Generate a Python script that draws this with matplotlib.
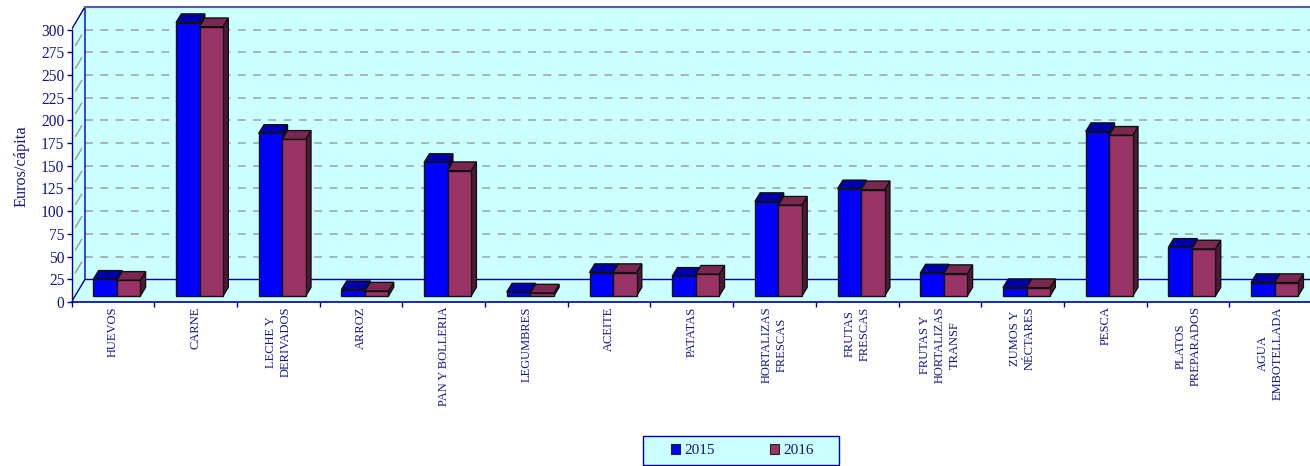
import matplotlib
matplotlib.use('Agg')
import matplotlib.pyplot as plt
from matplotlib.patches import Patch, Rectangle

plt.rcParams['font.family'] = ['Liberation Serif', 'DejaVu Serif']

categories = ['HUEVOS', 'CARNE', 'LECHE Y\nDERIVADOS', 'ARROZ', 'PAN Y BOLLERIA', 'LEGUMBRES', 'ACEITE',
              'PATATAS', 'HORTALIZAS\nFRESCAS', 'FRUTAS\nFRESCAS', 'FRUTAS Y\nHORTALIZAS\nTRANSF',
              'ZUMOS Y\nNÉCTARES', 'PESCA', 'PLATOS\nPREPARADOS', 'AGUA\nEMBOTELLADA']
values_2015 = [18.4, 301, 179, 7, 147, 4.4, 25.8, 21.7, 104, 118, 25.3, 9.2, 181, 53.6, 14.8]
values_2016 = [17.3, 296.5, 172.5, 5.5, 138, 3.3, 25.8, 24, 100, 117, 24.7, 9.2, 177, 51.8, 14.8]
y_ticks = [0, 25, 50, 75, 100, 125, 150, 175, 200, 225, 250, 275, 300]
legend_labels = ['2015', '2016']

W, H = 1310, 466
NAVY = '#0000A0'
CYAN = '#CCFFFF'
GRID = '#96a4a4'

# pixel sizes of one category and one euro
PX_CAT = 82.7
PX_EUR = 0.9083
px = 1 / PX_CAT
py = 1 / PX_EUR

fig = plt.figure(figsize=(W / 100, H / 100), dpi=100)
ax = fig.add_axes([71.5 / W, (H - 302) / H, (W - 71.5) / W, 302 / H])
ax.set_xlim(0, (W - 71.5) * px)
ax.set_ylim(0, 302 * py)
xmax = ax.get_xlim()[1]

# walls
wall_dx = 13.5 * px
wall_dy = 25
ax.fill([wall_dx, xmax, xmax, wall_dx], [wall_dy, wall_dy, 300 + wall_dy, 300 + wall_dy],
        color=CYAN, lw=0, zorder=0)
ax.fill([0, wall_dx, wall_dx, 0], [0, wall_dy, 300 + wall_dy, 300], color=CYAN, lw=0, zorder=0)
ax.fill([0, wall_dx, xmax, xmax], [0, wall_dy, wall_dy, 0], color=CYAN, lw=0, zorder=0)

dash = (0, (5.2, 4.8))
for v in y_ticks[1:-1]:
    ax.plot([wall_dx, xmax], [v + wall_dy, v + wall_dy], color=GRID, lw=1.1, ls=dash, zorder=1)
    ax.plot([wall_dx * 0.3, wall_dx * 0.75], [v + wall_dy * 0.3, v + wall_dy * 0.75], color=GRID, lw=1.1, zorder=1)

ax.plot([0, wall_dx, wall_dx, 0], [0, wall_dy, 300 + wall_dy, 300], color=NAVY, lw=1, zorder=2)
ax.plot([wall_dx, xmax], [wall_dy, wall_dy], color=NAVY, lw=1, zorder=2)
ax.plot([wall_dx, xmax], [300 + wall_dy, 300 + wall_dy], color='#5a5aa8', lw=1.5, zorder=2)

# bars
bar_w = 23.5 * px
start = 21.8 * px
base = 6.6
depth_x = 5.3 * px
depth_y = 8.7 * py


def draw_bars(i, offset, val, face, top, side):
    x0 = i + start + offset
    x1 = x0 + bar_w
    y1 = base + val
    z = 3 + i * 0.01 + offset
    ax.fill([x1, x1 + depth_x, x1 + depth_x, x1], [base, base + depth_y, y1 + depth_y, y1],
            facecolor=side, edgecolor='#111111', lw=1, zorder=z)
    ax.fill([x0, x0 + depth_x, x1 + depth_x, x1], [y1, y1 + depth_y, y1 + depth_y, y1],
            facecolor=top, edgecolor='#111111', lw=1, zorder=z)
    ax.bar(x0, val, width=bar_w, bottom=base, align='edge', facecolor=face,
           edgecolor='#111111', lw=1, zorder=z)


for i in range(len(categories)):
    draw_bars(i, 0, values_2015[i], '#0000FF', '#0000AA', '#00007F')
    draw_bars(i, bar_w, values_2016[i], '#993366', '#7A2850', '#4D1A33')

# axes
for s in ['top', 'right']:
    ax.spines[s].set_visible(False)
ax.spines['left'].set_bounds(0, 300)
ax.spines['left'].set_color(NAVY)
ax.spines['bottom'].set_color(NAVY)
ax.spines['left'].set_linewidth(1)
ax.spines['bottom'].set_linewidth(1.2)
ax.patch.set_visible(False)

ax.set_yticks(y_ticks)
ax.tick_params(axis='y', length=3.6, width=1, color=NAVY, labelcolor='#14148a', labelsize=11.2, pad=1.5)
ax.set_xticks(range(len(categories)))
ax.set_xticklabels([])
ax.tick_params(axis='x', which='major', length=3.6, width=1, color=NAVY)
ax.set_xticks([i + 0.5 for i in range(len(categories))], minor=True)
ax.set_xticklabels(categories, minor=True, rotation=90, va='top', ha='center', multialignment='center',
                   fontsize=9, color='#14148a', linespacing=1.3)
ax.tick_params(axis='x', which='minor', length=0, pad=3.2)

fig.text(21 / W, 1 - 166 / H, 'Euros/cápita', rotation=90, ha='center', va='center',
         fontsize=11.7, color='#14148a')

# legend
fig.add_artist(Rectangle((642.7 / W, 1 - 465.2 / H), 196.5 / W, 29.5 / H, transform=fig.transFigure,
                         facecolor=CYAN, edgecolor=NAVY, lw=1))
handles = [Patch(facecolor='#0000FF', edgecolor='#222222', lw=0.8),
           Patch(facecolor='#993366', edgecolor='#222222', lw=0.8)]
fig.legend(handles, legend_labels, loc='center', bbox_to_anchor=(742.5 / W, 1 - 450.5 / H), ncol=2,
           frameon=False, fontsize=11, labelcolor='#14148a', handlelength=0.6, handleheight=0.6,
           handletextpad=0.3, columnspacing=3.6, borderpad=0, borderaxespad=0)

fig.savefig('out.png', dpi=100)
